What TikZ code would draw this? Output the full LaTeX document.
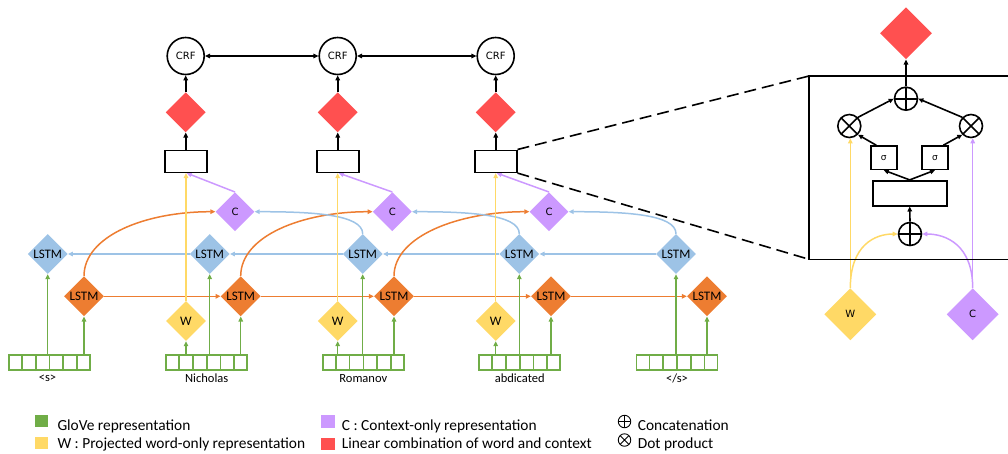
\documentclass[tikz,border=0pt]{standalone}
\usepackage{fontspec}
\setmainfont{Carlito}
\newfontfamily\dv{DejaVu Sans}
\usetikzlibrary{shapes.geometric,arrows.meta,calc,backgrounds}
\definecolor{cgreen}{HTML}{70AD47}
\definecolor{corange}{HTML}{ED7D31}
\definecolor{cblue}{HTML}{9DC3E6}
\definecolor{cyellow}{HTML}{FFD966}
\definecolor{cpurple}{HTML}{CC99FF}
\definecolor{cred}{HTML}{FF5050}
\begin{document}
\begin{tikzpicture}[x=1pt,y=-1pt,
  dia/.style={diamond, aspect=1, minimum size=40pt, inner sep=0pt},
  lstmf/.style={dia, fill=corange, font=\fontsize{13}{15}\selectfont},
  lstmb/.style={dia, fill=cblue, font=\fontsize{13}{15}\selectfont},
  wdia/.style={dia, fill=cyellow, font=\fontsize{13}{15}\selectfont},
  cdia/.style={dia, fill=cpurple, minimum size=39pt, font=\dv\fontsize{10}{12}\selectfont},
  rdia/.style={dia, fill=cred},
  bigdia/.style={dia, minimum size=52pt, font=\dv\fontsize{10}{12}\selectfont},
  crf/.style={circle, draw, line width=1.6pt, minimum size=37pt, inner sep=0pt, font=\dv\fontsize{10}{12}\selectfont},
  blk/.style={rectangle, draw, line width=1.6pt, inner sep=0pt},
  emb/.style={rectangle, draw=cgreen, line width=1.6pt, minimum width=81pt, minimum height=15.5pt, inner sep=0pt},
  word/.style={font=\fontsize{12.5}{14}\selectfont, inner sep=0pt},
  legtext/.style={font=\fontsize{15.4}{17}\selectfont, inner sep=0pt, anchor=base west},
  tipa/.style={-{Triangle[length=5pt,width=4.5pt]}},
  tipb/.style={{Triangle[length=5pt,width=4.5pt]}-{Triangle[length=5pt,width=4.5pt]}},
  ga/.style={tipa, draw=cgreen, line width=1.5pt},
  oa/.style={tipa, draw=corange, line width=1.5pt},
  ba/.style={tipa, draw=cblue, line width=1.5pt},
  ya/.style={tipa, draw=cyellow, line width=1.5pt},
  pa/.style={tipa, draw=cpurple, line width=1.5pt},
  ka/.style={tipa, draw=black, line width=1.6pt},
  oplus/.style={circle, draw, line width=1.6pt, minimum size=23pt, inner sep=0pt,
    path picture={\draw[line width=1.6pt] (path picture bounding box.north) -- (path picture bounding box.south)
      (path picture bounding box.west) -- (path picture bounding box.east);}},
  otimes/.style={circle, draw, line width=1.6pt, minimum size=23pt, inner sep=0pt,
    path picture={\draw[line width=1.6pt] (path picture bounding box.north west) -- (path picture bounding box.south east)
      (path picture bounding box.south west) -- (path picture bounding box.north east);}},
  loplus/.style={circle, draw, line width=0.9pt, minimum size=12.5pt, inner sep=0pt,
    path picture={\draw[line width=0.9pt] (path picture bounding box.north) -- (path picture bounding box.south)
      (path picture bounding box.west) -- (path picture bounding box.east);}},
  lotimes/.style={circle, draw, line width=0.9pt, minimum size=12.5pt, inner sep=0pt,
    path picture={\draw[line width=0.9pt] (path picture bounding box.north west) -- (path picture bounding box.south east)
      (path picture bounding box.south west) -- (path picture bounding box.north east);}}
]
\useasboundingbox (0,0) rectangle (1008,453);

% ---------- top row ----------
\node[crf] (crf1) at (185.7,56) {CRF};
\node[crf] (crf2) at (337.7,56) {CRF};
\node[crf] (crf3) at (495.7,56) {CRF};
\node[rdia] (red1) at (185.7,112.3) {};
\node[rdia] (red2) at (337.7,112.3) {};
\node[rdia] (red3) at (495.7,112.3) {};
\node[blk, minimum width=42pt, minimum height=22pt] (rect1) at (185.7,161.3) {};
\node[blk, minimum width=42pt, minimum height=22pt] (rect2) at (337.7,161.3) {};
\node[blk, minimum width=42pt, minimum height=22pt] (rect3) at (495.7,161.3) {};
\node[cdia] (c1) at (235,211.7) {C};
\node[cdia] (c2) at (392.3,211.7) {C};
\node[cdia] (c3) at (549,211.7) {C};

% ---------- LSTMs ----------
\node[lstmb] (bl1) at (47.7,254) {LSTM};
\node[lstmb] (bl2) at (209.7,254) {LSTM};
\node[lstmb] (bl3) at (362.7,254) {LSTM};
\node[lstmb] (bl4) at (519.3,254) {LSTM};
\node[lstmb] (bl5) at (676,254) {LSTM};
\node[lstmf] (or1) at (84,296.3) {LSTM};
\node[lstmf] (or2) at (240.7,296.3) {LSTM};
\node[lstmf] (or3) at (394,296.3) {LSTM};
\node[lstmf] (or4) at (551,296.3) {LSTM};
\node[lstmf] (or5) at (707,296.3) {LSTM};
\node[wdia] (w1) at (186,321) {W};
\node[wdia] (w2) at (337.7,321) {W};
\node[wdia] (w3) at (495.7,321) {W};

% ---------- embeddings ----------
\node[emb] (emb1) at (49.5,362.5) {};
\node[emb] (emb2) at (206.7,362.5) {};
\node[emb] (emb3) at (363.3,362.5) {};
\node[emb] (emb4) at (519.7,362.5) {};
\node[emb] (emb5) at (677,362.5) {};
\foreach \e in {emb1,emb2,emb3,emb4,emb5}
  \foreach \k in {1,...,5}
    \draw[cgreen, line width=1.6pt] ($(\e.south west)!\k/6!(\e.south east)$) -- ($(\e.north west)!\k/6!(\e.north east)$);
\node[word] (lab1) at (47.5,378.5) {<s>};
\node[word] (lab2) at (206.7,378.5) {Nicholas};
\node[word] (lab3) at (363.3,378.5) {Romanov};
\node[word] (lab4) at (519.7,378.5) {abdicated};
\node[word] (lab5) at (677,378.5) {</s>};

% ---------- right panel ----------
\node[bigdia, fill=cred] (redR) at (906,33.3) {};
\coordinate (boxTL) at (809,76);
\coordinate (boxBL) at (809,259.3);
\coordinate (boxTR) at (1008,76);
\coordinate (boxBR) at (1008,259.3);
\draw[line width=1.6pt] (boxTR) -- (boxTL) -- (boxBL) -- (boxBR);
\node[oplus] (plusT) at (906,98.7) {};
\node[otimes] (oxL) at (849.3,126) {};
\node[otimes] (oxR) at (971,126) {};
\node[blk, minimum width=26pt, minimum height=23.3pt, font=\dv\fontsize{9}{11}\selectfont] (sigL) at (883.7,157.7) {σ};
\node[blk, minimum width=26pt, minimum height=23.3pt, font=\dv\fontsize{9}{11}\selectfont] (sigR) at (935,157.7) {σ};
\node[blk, minimum width=74pt, minimum height=25pt] (rectR) at (909.7,193.2) {};
\node[oplus] (plusB) at (910,234) {};
\node[bigdia, fill=cyellow] (wR) at (850.3,314.3) {W};
\node[bigdia, fill=cpurple] (cR) at (972.7,314.3) {C};

% ---------- legend ----------
\node[fill=cgreen, minimum width=13pt, minimum height=12pt, inner sep=0pt] (sqG) at (41.7,420.8) {};
\node[fill=cyellow, minimum width=13pt, minimum height=12pt, inner sep=0pt] (sqY) at (41.7,442.5) {};
\node[legtext] (tG) at (57.3,430) {GloVe representation};
\node[legtext] (tY) at (57.3,448.5) {W : Projected word-only representation};
\node[fill=cpurple, minimum width=14pt, minimum height=13pt, inner sep=0pt] (sqP) at (327.8,421.7) {};
\node[fill=cred, minimum width=14pt, minimum height=12.5pt, inner sep=0pt] (sqR) at (327.8,444.2) {};
\node[legtext] (tP) at (341.7,430) {C : Context-only representation};
\node[legtext] (tR) at (341.7,448.5) {Linear combination of word and context};
\node[loplus] (lplus) at (624.5,421.5) {};
\node[lotimes] (ltimes) at (624.5,440) {};
\node[legtext] (tPlus) at (637.7,430) {Concatenation};
\node[legtext] (tTimes) at (637.7,448.5) {Dot product};

% ---------- connectors ----------
\begin{scope}[on background layer]
% dashed zoom lines
\draw[line width=1.6pt, dash pattern=on 12pt off 6pt] (rect3.north east) -- (boxTL);
\draw[line width=1.6pt, dash pattern=on 12pt off 6pt] (rect3.south east) -- (boxBL);
% horizontal LSTM chains
\draw[oa] (or1.east) -- (or2.west);
\draw[oa] (or2.east) -- (or3.west);
\draw[oa] (or3.east) -- (or4.west);
\draw[oa] (or4.east) -- (or5.west);
\draw[ba] (bl5.west) -- (bl4.east);
\draw[ba] (bl4.west) -- (bl3.east);
\draw[ba] (bl3.west) -- (bl2.east);
\draw[ba] (bl2.west) -- (bl1.east);
% forward curves
\draw[oa] (or1.north) .. controls (84,236) and (145,211.7) .. (c1.west);
\draw[oa] (or2.north) .. controls (240.7,236) and (302,211.7) .. (c2.west);
\draw[oa] (or3.north) .. controls (394,236) and (459,211.7) .. (c3.west);
% backward curves
\draw[ba] (bl3.north) .. controls (362.7,214) and (310,211.7) .. (c1.east);
\draw[ba] (bl4.north) .. controls (519.3,214) and (467,211.7) .. (c2.east);
\draw[ba] (bl5.north) .. controls (676,214) and (624,211.7) .. (c3.east);
% green
\draw[ga] (bl1 |- emb1.north) -- (bl1.south);
\draw[ga] (or1 |- emb1.north) -- (or1.south);
\draw[ga] (w1 |- emb2.north) -- (w1.south);
\draw[ga] (bl2 |- emb2.north) -- (bl2.south);
\draw[ga] (or2 |- emb2.north) -- (or2.south);
\draw[ga] (w2 |- emb3.north) -- (w2.south);
\draw[ga] (bl3 |- emb3.north) -- (bl3.south);
\draw[ga] (or3 |- emb3.north) -- (or3.south);
\draw[ga] (w3 |- emb4.north) -- (w3.south);
\draw[ga] (bl4 |- emb4.north) -- (bl4.south);
\draw[ga] (or4 |- emb4.north) -- (or4.south);
\draw[ga] (bl5 |- emb5.north) -- (bl5.south);
\draw[ga] (or5 |- emb5.north) -- (or5.south);
% yellow and purple into rects
\draw[ya] (w1.north) -- (w1.north |- rect1.south);
\draw[ya] (w2.north) -- (w2.north |- rect2.south);
\draw[ya] (w3.north) -- (w3.north |- rect3.south);
\draw[pa] (c1.north) -- ($(rect1.south)+(1,0)$);
\draw[pa] (c2.north) -- ($(rect2.south)+(1,0)$);
\draw[pa] (c3.north) -- ($(rect3.south)+(1,0)$);
% black
\draw[ka] (rect1.north) -- (red1.south);
\draw[ka] (rect2.north) -- (red2.south);
\draw[ka] (rect3.north) -- (red3.south);
\draw[ka] (red1.north) -- (crf1.south);
\draw[ka] (red2.north) -- (crf2.south);
\draw[ka] (red3.north) -- (crf3.south);
\draw[tipb, line width=1.6pt] (crf1.east) -- (crf2.west);
\draw[tipb, line width=1.6pt] (crf2.east) -- (crf3.west);
% right panel
\draw[ka] (plusT.north) -- (redR.south);
\draw[ka] (oxL.north east) -- (plusT.west);
\draw[ka] (oxR.north west) -- (plusT.east);
\draw[ka] ($(sigL.north west)!0.23!(sigL.north east)$) -- (oxL.south east);
\draw[ka] ($(sigR.north east)!0.2!(sigR.north west)$) -- (oxR.south west);
\draw[ka] (rectR.north) -- (sigL.south);
\draw[ka] (rectR.north) -- (sigR.south);
\draw[ka] (plusB.north) -- (rectR.south);
\draw[ya] (wR.north) -- (wR.north |- oxL.south);
\draw[ya] (wR.north) .. controls (850.3,245) and (875,234) .. (plusB.west);
\draw[pa] (cR.north) -- (cR.north |- oxR.south);
\draw[pa] (cR.north) .. controls (972.7,245) and (946,234) .. (plusB.east);
\end{scope}
\end{tikzpicture}
\end{document}
